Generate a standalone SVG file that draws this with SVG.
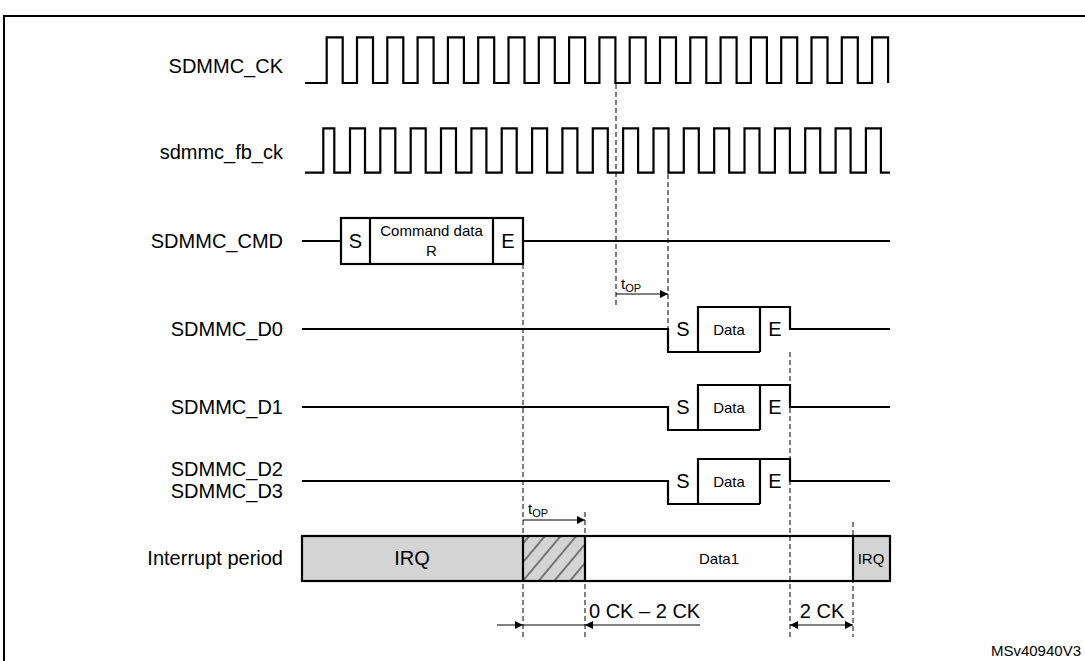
<svg xmlns="http://www.w3.org/2000/svg" width="1085" height="661" viewBox="0 0 1085 661">
<style>
.lbl{font-family:"Liberation Sans",Arial,sans-serif;font-size:20px;fill:#000}
.sm{font-family:"Liberation Sans",Arial,sans-serif;font-size:15px;fill:#000}
.w{fill:none;stroke:#000;stroke-width:2.2;stroke-linejoin:miter}
.d{fill:none;stroke:#000;stroke-width:1;stroke-dasharray:5,3}
.a{fill:none;stroke:#000;stroke-width:1}
</style>
<defs>
<marker id="ah" viewBox="0 0 10 10" refX="10" refY="5" markerWidth="12" markerHeight="8" markerUnits="userSpaceOnUse" orient="auto"><path d="M0,0L10,5L0,10z" fill="#000"/></marker>
<marker id="ahs" viewBox="0 0 10 10" refX="0" refY="5" markerWidth="12" markerHeight="8" markerUnits="userSpaceOnUse" orient="auto"><path d="M10,0L0,5L10,10z" fill="#000"/></marker>
<pattern id="hatch" width="12" height="12" patternUnits="userSpaceOnUse" patternTransform="rotate(-50)"><rect width="12" height="12" fill="#d4d4d4"/><line x1="0" y1="6" x2="12" y2="6" stroke="#555" stroke-width="1.5"/></pattern>
</defs>
<rect width="1085" height="661" fill="#fff"/>
<path d="M4,661V16H1085" fill="none" stroke="#000" stroke-width="2"/>

<g id="labels">
<text class="lbl" x="283" y="73" text-anchor="end">SDMMC_CK</text>
<text class="lbl" x="283" y="159" text-anchor="end">sdmmc_fb_ck</text>
<text class="lbl" x="283" y="248" text-anchor="end">SDMMC_CMD</text>
<text class="lbl" x="283" y="336" text-anchor="end">SDMMC_D0</text>
<text class="lbl" x="283" y="414" text-anchor="end">SDMMC_D1</text>
<text class="lbl" x="283" y="476" text-anchor="end">SDMMC_D2</text>
<text class="lbl" x="283" y="498" text-anchor="end">SDMMC_D3</text>
<text class="lbl" x="283" y="565" text-anchor="end">Interrupt period</text>
<text class="sm" x="1081" y="656" text-anchor="end">MSv40940V3</text>
</g>

<g id="sdmmc_ck">
<path class="w" d="M305,83H326.7V37.3H342.7V83H357V37.3H373V83H387.3V37.3H403.3V83H417.6V37.3H433.6V83H447.9V37.3H463.9V83H478.2V37.3H494.2V83H508.5V37.3H524.5V83H538.8V37.3H554.8V83H569.1V37.3H585.1V83H599.4V37.3H615.4V83H629.7V37.3H645.7V83H660V37.3H676V83H690.3V37.3H706.3V83H720.6V37.3H736.6V83H750.9V37.3H766.9V83H781.2V37.3H797.2V83H811.5V37.3H827.5V83H841.8V37.3H857.8V83H872.1V37.3H888.1V83"/>
</g>
<g id="sdmmc_fb_ck">
<path class="w" d="M305,172.7H323.3V128.3H334.3V172.7H350V128.3H365V172.7H380.3V128.3H395.3V172.7H410.7V128.3H425.7V172.7H441V128.3H456V172.7H471.4V128.3H486.4V172.7H501.7V128.3H516.7V172.7H532.1V128.3H547.1V172.7H562.4V128.3H577.4V172.7H592.8V128.3H607.8V172.7H623.1V128.3H638.1V172.7H653.5V128.3H668.5V172.7H683.8V128.3H698.8V172.7H714.2V128.3H729.2V172.7H744.5V128.3H759.5V172.7H774.9V128.3H789.9V172.7H805.2V128.3H820.2V172.7H835.6V128.3H850.6V172.7H865.9V128.3H880.9V172.7H890"/>
</g>

<g id="sdmmc_cmd">
<path class="w" d="M302,241H341M523,241H890"/>
<rect class="w" x="341" y="218" width="182" height="46"/>
<path class="w" d="M370,218V264M493,218V264"/>
<text class="lbl" x="355.5" y="248" text-anchor="middle">S</text>
<text class="sm" x="431.5" y="236" text-anchor="middle">Command data</text>
<text class="sm" x="431.5" y="256" text-anchor="middle">R</text>
<text class="lbl" x="508" y="248" text-anchor="middle">E</text>
</g>

<g id="sdmmc_d0">
<path class="w" d="M302,329H668V352H760M698,352V307H790V329H890M760,307V352"/>
<text class="lbl" x="683" y="336" text-anchor="middle">S</text>
<text class="sm" x="729" y="335" text-anchor="middle">Data</text>
<text class="lbl" x="775" y="336" text-anchor="middle">E</text>
</g>
<g id="sdmmc_d1">
<path class="w" d="M302,407H668V430H760M698,430V385H790V407H890M760,385V430"/>
<text class="lbl" x="683" y="414" text-anchor="middle">S</text>
<text class="sm" x="729" y="413" text-anchor="middle">Data</text>
<text class="lbl" x="775" y="414" text-anchor="middle">E</text>
</g>
<g id="sdmmc_d2d3">
<path class="w" d="M302,481H668V504H760M698,504V459H790V481H890M760,459V504"/>
<text class="lbl" x="683" y="488" text-anchor="middle">S</text>
<text class="sm" x="729" y="487" text-anchor="middle">Data</text>
<text class="lbl" x="775" y="488" text-anchor="middle">E</text>
</g>

<g id="interrupt">
<rect x="302" y="536" width="221" height="45" fill="#d4d4d4"/>
<rect x="523" y="536" width="62" height="45" fill="url(#hatch)"/>
<rect x="585" y="536" width="268" height="45" fill="#fff"/>
<rect x="853" y="536" width="37" height="45" fill="#d4d4d4"/>
<rect class="w" x="302" y="536" width="588" height="45"/>
<path class="w" d="M523,536V581M585,536V581M853,536V581"/>
<text class="lbl" x="412" y="565" text-anchor="middle">IRQ</text>
<text class="sm" x="719" y="564" text-anchor="middle">Data1</text>
<text class="sm" x="871" y="564" text-anchor="middle">IRQ</text>
</g>

<g id="connectors">
<path class="d" d="M616,84V308M668,174V352M523,264V637M585,512V637M790,352V637M853,522V637"/>
<line class="a" x1="616" y1="294" x2="668" y2="294" marker-end="url(#ah)"/>
<text class="sm" x="621" y="289">t<tspan font-size="11" dy="3">OP</tspan></text>
<line class="a" x1="523" y1="520" x2="585" y2="520" marker-end="url(#ah)"/>
<text class="sm" x="528" y="514">t<tspan font-size="11" dy="3">OP</tspan></text>
<line class="a" x1="497" y1="625" x2="523" y2="625" marker-end="url(#ah)"/>
<line class="a" x1="523" y1="625" x2="585" y2="625"/>
<line class="a" x1="700" y1="625" x2="585" y2="625" marker-end="url(#ah)"/>
<text class="lbl" x="589" y="618">0 CK – 2 CK</text>
<line class="a" x1="790" y1="625" x2="853" y2="625" marker-start="url(#ahs)" marker-end="url(#ah)"/>
<text class="lbl" x="822" y="618" text-anchor="middle">2 CK</text>
</g>
</svg>
